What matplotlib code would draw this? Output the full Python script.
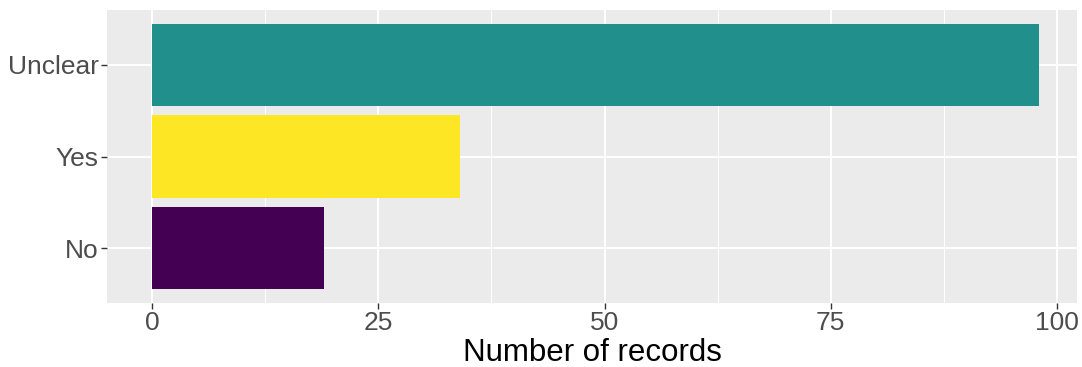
import numpy as np
import matplotlib.pyplot as plt

# Data ---------------------------------------------------------------
categories = ["No", "Yes", "Unclear"]
counts = [19, 34, 98]
colors = ["#440154", "#FDE725", "#21908C"]
x_ticks = [0, 25, 50, 75, 100]
x_minor = [12.5, 37.5, 62.5, 87.5]

# Plotting -----------------------------------------------------------
plt.rcParams["font.family"] = ["Liberation Sans", "DejaVu Sans"]

fig = plt.figure(figsize=(10.82, 3.67), dpi=100)
ax = fig.add_axes([107 / 1082, 1 - 303 / 367, (1077 - 107) / 1082, (303 - 10) / 367])

ax.set_facecolor("#EBEBEB")
ypos = np.arange(1, len(categories) + 1)
ax.barh(ypos, counts, height=0.9, color=colors, zorder=3)

ax.set_xlim(-4.97, 102.2)
ax.set_ylim(0.4, len(categories) + 0.6)

ax.set_xticks(x_ticks)
ax.set_xticks(x_minor, minor=True)
ax.set_yticks(ypos)
ax.set_yticklabels(categories)

ax.grid(which="major", color="white", linewidth=1.4, zorder=0)
ax.grid(which="minor", axis="x", color="white", linewidth=0.7, zorder=0)
ax.set_axisbelow(True)

for s in ax.spines.values():
    s.set_visible(False)

ax.tick_params(which="major", length=4, width=1, color="#333333",
               labelcolor="#4D4D4D", labelsize=19, pad=2)
ax.tick_params(which="minor", length=0)

ax.set_xlabel("Number of records", fontsize=22.5, color="black", labelpad=2)

fig.savefig("out.png", dpi=100)
